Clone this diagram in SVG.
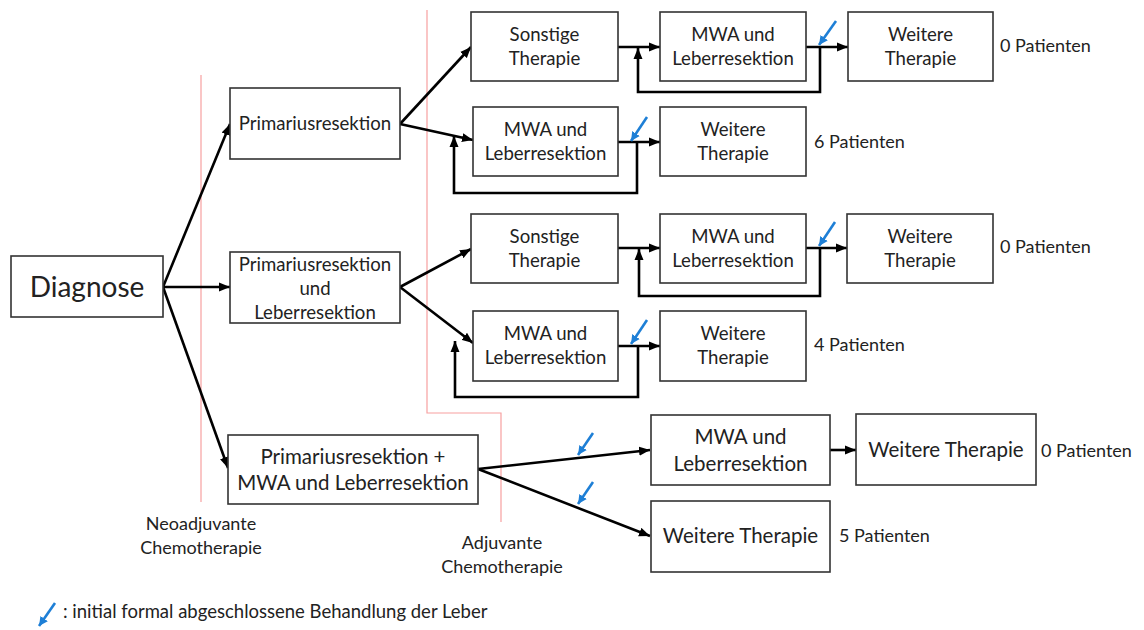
<svg xmlns="http://www.w3.org/2000/svg" width="1144" height="630" viewBox="0 0 1144 630">
<style>
.box{fill:#fff;stroke:#333;stroke-width:1.6}
.t{font-family:Lato,"Liberation Sans",sans-serif;fill:#222;text-anchor:middle}
.s16{font-size:18.6px}
.s19{font-size:20.5px}
.lbl{font-family:Lato,"Liberation Sans",sans-serif;fill:#222;font-size:18px}
.ph{font-size:18px}
.c{fill:none;stroke:#000;stroke-width:2.6}
.ca{fill:none;stroke:#000;stroke-width:2.6;marker-end:url(#ah)}
.red{fill:none;stroke:#f7a0a0;stroke-width:1.2}
.blue{fill:none;stroke:#1e7fd6;stroke-width:2.6;marker-end:url(#bh)}
</style>
<defs>
<marker id="ah" markerUnits="userSpaceOnUse" markerWidth="12" markerHeight="10" refX="11" refY="5" orient="auto">
<path d="M0,0.5 L11,5 L0,9.5 Z" fill="#000"/>
</marker>
<marker id="bh" markerUnits="userSpaceOnUse" markerWidth="10" markerHeight="10" refX="9" refY="5" orient="auto">
<path d="M0,0.5 L9,5 L0,9.5 Z" fill="#1e7fd6"/>
</marker>
</defs>
<rect width="1144" height="630" fill="#fff"/>
<g id="phases">
<path class="red" d="M201,75 V502"/>
<path class="red" d="M427,10 V413 H501 V522"/>
<text class="t ph" x="201" y="530">Neoadjuvante</text>
<text class="t ph" x="201" y="554">Chemotherapie</text>
<text class="t ph" x="502" y="549">Adjuvante</text>
<text class="t ph" x="502" y="573">Chemotherapie</text>
</g>
<g id="connectors">
<path class="ca" d="M163,287 L230,124"/>
<path class="ca" d="M163,287 L230,287"/>
<path class="ca" d="M163,287 L228,468"/>
<path class="ca" d="M400,124 L471,47"/>
<path class="ca" d="M400,124 L473,140"/>
<path class="ca" d="M618,47 L660,47"/>
<path class="ca" d="M806,47 L848,47"/>
<path class="ca" d="M820,47 V92 H638 V48"/>
<path class="ca" d="M618,142 L660,142"/>
<path class="ca" d="M637,142 V193 H454 V136"/>
<path class="ca" d="M400,287 L471,249"/>
<path class="ca" d="M400,287 L473,343"/>
<path class="ca" d="M618,248 L660,248"/>
<path class="ca" d="M806,248 L847,248"/>
<path class="ca" d="M820,248 V296 H639 V249"/>
<path class="ca" d="M618,346 L660,346"/>
<path class="ca" d="M638,346 V397 H455 V341"/>
<path class="ca" d="M478,469 L650,450"/>
<path class="ca" d="M478,469 L650,536"/>
<path class="ca" d="M830,450 L856,450"/>
</g>
<g id="markers-blue">
<path class="blue" d="M836,21 L819,45"/>
<path class="blue" d="M647,117 L631,141"/>
<path class="blue" d="M835,222 L819,246"/>
<path class="blue" d="M647,320 L631,344"/>
<path class="blue" d="M593,433 L578,455"/>
<path class="blue" d="M593,482 L578,504"/>
</g>
<g id="n-diagnose"><rect class="box" x="11" y="256" width="152" height="61"/><text class="t" x="87" y="297" style="font-size:28px">Diagnose</text></g>
<g id="n-prim1"><rect class="box" x="230" y="88" width="170" height="71"/><text class="t s16" x="315" y="130">Primariusresektion</text></g>
<g id="n-prim2"><rect class="box" x="230" y="252" width="170" height="71"/><text class="t s16" x="315" y="271">Primariusresektion</text><text class="t s16" x="315" y="295">und</text><text class="t s16" x="315" y="319">Leberresektion</text></g>
<g id="n-prim3"><rect class="box" x="228" y="435" width="250" height="69"/><text class="t s19" x="353" y="464">Primariusresektion +</text><text class="t s19" x="353" y="490">MWA und Leberresektion</text></g>
<g id="n-r1a"><rect class="box" x="471" y="12" width="147" height="69"/><text class="t s16" x="544.5" y="41">Sonstige</text><text class="t s16" x="544.5" y="65">Therapie</text></g>
<g id="n-r1b"><rect class="box" x="660" y="12" width="146" height="69"/><text class="t s16" x="733" y="41">MWA und</text><text class="t s16" x="733" y="65">Leberresektion</text></g>
<g id="n-r1c"><rect class="box" x="848" y="12" width="145" height="69"/><text class="t s16" x="920.5" y="41">Weitere</text><text class="t s16" x="920.5" y="65">Therapie</text></g>
<g id="n-r2a"><rect class="box" x="473" y="107" width="145" height="69"/><text class="t s16" x="545.5" y="136">MWA und</text><text class="t s16" x="545.5" y="160">Leberresektion</text></g>
<g id="n-r2b"><rect class="box" x="660" y="107" width="146" height="69"/><text class="t s16" x="733" y="136">Weitere</text><text class="t s16" x="733" y="160">Therapie</text></g>
<g id="n-r3a"><rect class="box" x="471" y="214" width="147" height="69"/><text class="t s16" x="544.5" y="243">Sonstige</text><text class="t s16" x="544.5" y="267">Therapie</text></g>
<g id="n-r3b"><rect class="box" x="660" y="214" width="146" height="69"/><text class="t s16" x="733" y="243">MWA und</text><text class="t s16" x="733" y="267">Leberresektion</text></g>
<g id="n-r3c"><rect class="box" x="847" y="214" width="146" height="69"/><text class="t s16" x="920" y="243">Weitere</text><text class="t s16" x="920" y="267">Therapie</text></g>
<g id="n-r4a"><rect class="box" x="473" y="311" width="145" height="70"/><text class="t s16" x="545.5" y="340">MWA und</text><text class="t s16" x="545.5" y="364">Leberresektion</text></g>
<g id="n-r4b"><rect class="box" x="660" y="311" width="146" height="70"/><text class="t s16" x="733" y="340">Weitere</text><text class="t s16" x="733" y="364">Therapie</text></g>
<g id="n-r5a"><rect class="box" x="651" y="415" width="179" height="70"/><text class="t s19" x="740.5" y="444">MWA und</text><text class="t s19" x="740.5" y="471">Leberresektion</text></g>
<g id="n-r5b"><rect class="box" x="856" y="414" width="180" height="71"/><text class="t s19" x="946" y="457">Weitere Therapie</text></g>
<g id="n-r6"><rect class="box" x="651" y="501" width="179" height="71"/><text class="t s19" x="740.5" y="543">Weitere Therapie</text></g>
<g id="counts">
<text class="lbl" x="1000" y="52">0 Patienten</text>
<text class="lbl" x="814" y="148">6 Patienten</text>
<text class="lbl" x="1000" y="253">0 Patienten</text>
<text class="lbl" x="814" y="351">4 Patienten</text>
<text class="lbl" x="1041" y="457">0 Patienten</text>
<text class="lbl" x="839" y="542">5 Patienten</text>
</g>
<g id="legend">
<path class="blue" d="M55,603 L39,626"/>
<text class="lbl" x="63" y="618" style="font-size:18.5px">: initial formal abgeschlossene Behandlung der Leber</text>
</g>
</svg>
